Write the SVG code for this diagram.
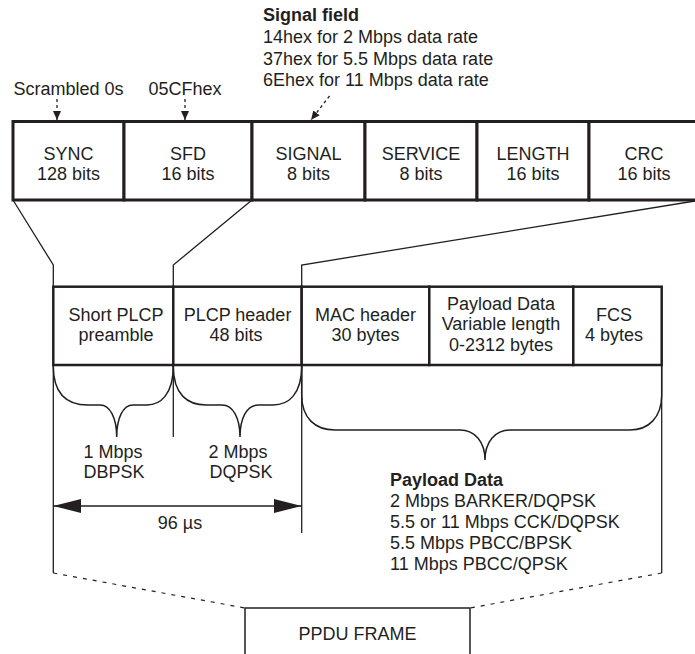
<svg xmlns="http://www.w3.org/2000/svg" width="695" height="654" viewBox="0 0 695 654">
  <style>
    text { font-family: "Liberation Sans", Arial, sans-serif; font-size: 18px; fill: #231f20; }
    .c { text-anchor: middle; }
    .b { font-weight: bold; }
    .top { fill: #ffffff; stroke: #231f20; stroke-width: 3; }
    .bot { fill: #ffffff; stroke: #231f20; stroke-width: 2.5; }
    .frame { fill: #ffffff; stroke: #231f20; stroke-width: 1.5; }
    .thin { fill: none; stroke: #231f20; stroke-width: 1.3; }
    .brace { fill: none; stroke: #231f20; stroke-width: 1.5; }
    .dash { fill: none; stroke: #231f20; stroke-width: 1.3; stroke-dasharray: 3 3; }
    .ldash { fill: none; stroke: #231f20; stroke-width: 1.2; stroke-dasharray: 4 6; }
    .dim { fill: none; stroke: #231f20; stroke-width: 1.6; }
  </style>
  <defs>
    <marker id="smallArrow" markerUnits="userSpaceOnUse" markerWidth="10" markerHeight="9" refX="9" refY="4" orient="auto">
      <path d="M0,0 L9,4 L0,8 z" fill="#231f20"/>
    </marker>
    <marker id="bigArrow" markerUnits="userSpaceOnUse" markerWidth="29" markerHeight="15" refX="28" refY="7" orient="auto-start-reverse">
      <path d="M0,0 L28,7 L0,14 z" fill="#231f20"/>
    </marker>
  </defs>

  <rect width="695" height="654" fill="#ffffff"/>

  <!-- annotations -->
  <g id="signal-field-note">
    <text x="263" y="21" class="b">Signal field</text>
    <text x="263" y="43">14hex for 2 Mbps data rate</text>
    <text x="263" y="65">37hex for 5.5 Mbps data rate</text>
    <text x="263" y="86">6Ehex for 11 Mbps data rate</text>
  </g>
  <g id="sync-note"><text x="68.5" y="95" class="c">Scrambled 0s</text></g>
  <g id="sfd-note"><text x="185" y="95" class="c">05CFhex</text></g>

  <!-- connectors -->
  <g id="connectors">
    <line x1="57" y1="99" x2="57" y2="120" class="dash" marker-end="url(#smallArrow)"/>
    <line x1="185" y1="99" x2="185" y2="120" class="dash" marker-end="url(#smallArrow)"/>
    <line x1="329.5" y1="96" x2="311" y2="120" class="dash" marker-end="url(#smallArrow)"/>
    <path d="M13,200 L53.3,265 L53.3,286.7" class="thin"/>
    <path d="M252,200 L173.3,265 L173.3,286.7" class="thin"/>
    <path d="M695,201 L301.7,265 L301.7,286.7" class="thin"/>
    <line x1="53.3" y1="365" x2="53.3" y2="573" class="thin"/>
    <line x1="173.3" y1="365" x2="173.3" y2="437" class="thin"/>
    <line x1="301.7" y1="365" x2="301.7" y2="533" class="thin"/>
    <line x1="661.7" y1="365" x2="661.7" y2="573" class="thin"/>
    <path d="M53.3,366 C53.3,395 68,405 88,405 L100,405 C110,405 116.7,418 116.7,437 C116.7,418 123,405 133,405 L147,405 C160,405 173.3,395 173.3,366" class="brace"/>
    <path d="M173.3,366 C173.3,395 188,405 206,405 L222,405 C233,405 240,418 240,437 C240,418 247,405 258,405 L273,405 C288,405 301.7,395 301.7,366" class="brace"/>
    <path d="M301.7,366 L301.7,395 C301.7,418 315,430 335,430 L460,430 C475,430 485,442 485,460 C485,442 495,430 510,430 L630,430 C648,430 661.7,418 661.7,395 L661.7,366" class="brace"/>
    <line x1="53.3" y1="506" x2="301.7" y2="506" class="dim" marker-start="url(#bigArrow)" marker-end="url(#bigArrow)"/>
    <line x1="53.3" y1="573" x2="245" y2="608" class="ldash"/>
    <line x1="661.7" y1="573" x2="470" y2="608" class="ldash"/>
  </g>

  <!-- top row: PLCP fields -->
  <g id="sync"><rect x="13" y="121.5" width="111" height="78.5" class="top"/><text x="68.5" y="160" class="c">SYNC</text><text x="68.5" y="180" class="c">128 bits</text></g>
  <g id="sfd"><rect x="124" y="121.5" width="128" height="78.5" class="top"/><text x="188" y="160" class="c">SFD</text><text x="188" y="180" class="c">16 bits</text></g>
  <g id="signal"><rect x="252" y="121.5" width="113" height="78.5" class="top"/><text x="308.5" y="160" class="c">SIGNAL</text><text x="308.5" y="180" class="c">8 bits</text></g>
  <g id="service"><rect x="365" y="121.5" width="112" height="78.5" class="top"/><text x="421" y="160" class="c">SERVICE</text><text x="421" y="180" class="c">8 bits</text></g>
  <g id="length"><rect x="477" y="121.5" width="112" height="78.5" class="top"/><text x="533" y="160" class="c">LENGTH</text><text x="533" y="180" class="c">16 bits</text></g>
  <g id="crc"><rect x="589" y="121.5" width="115" height="78.5" class="top"/><text x="644" y="160" class="c">CRC</text><text x="644" y="180" class="c">16 bits</text></g>

  <!-- bottom row: frame parts -->
  <g id="short-plcp"><rect x="53.3" y="286.7" width="120" height="78.3" class="bot"/><text x="116" y="321" class="c">Short PLCP</text><text x="116" y="341" class="c">preamble</text></g>
  <g id="plcp-header"><rect x="173.3" y="286.7" width="128.4" height="78.3" class="bot"/><text x="237.5" y="321" class="c">PLCP header</text><text x="236" y="341" class="c">48 bits</text></g>
  <g id="mac-header"><rect x="301.7" y="286.7" width="127.6" height="78.3" class="bot"/><text x="365.5" y="321" class="c">MAC header</text><text x="365.5" y="341" class="c">30 bytes</text></g>
  <g id="payload"><rect x="429.3" y="286.7" width="144" height="78.3" class="bot"/><text x="501" y="310" class="c">Payload Data</text><text x="501" y="330" class="c">Variable length</text><text x="501" y="351" class="c">0-2312 bytes</text></g>
  <g id="fcs"><rect x="573.3" y="286.7" width="88.4" height="78.3" class="bot"/><text x="614" y="321" class="c">FCS</text><text x="614" y="341" class="c">4 bytes</text></g>

  <!-- modulation labels -->
  <g id="preamble-rate"><text x="113" y="458" class="c">1 Mbps</text><text x="114" y="478" class="c">DBPSK</text></g>
  <g id="header-rate"><text x="238" y="458" class="c">2 Mbps</text><text x="241" y="478" class="c">DQPSK</text></g>
  <g id="duration"><text x="180" y="529" class="c">96 µs</text></g>
  <g id="payload-rates">
    <text x="390" y="486" class="b">Payload Data</text>
    <text x="390" y="507">2 Mbps BARKER/DQPSK</text>
    <text x="390" y="528">5.5 or 11 Mbps CCK/DQPSK</text>
    <text x="390" y="549">5.5 Mbps PBCC/BPSK</text>
    <text x="390" y="570">11 Mbps PBCC/QPSK</text>
  </g>

  <g id="ppdu-frame"><rect x="245" y="608" width="225" height="60" class="frame"/><text x="357.5" y="640" class="c">PPDU FRAME</text></g>
</svg>
